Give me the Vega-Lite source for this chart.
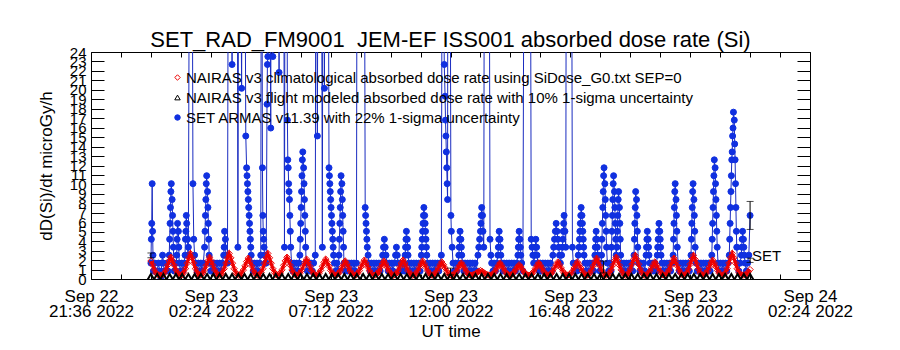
{
"$schema": "https://vega.github.io/schema/vega-lite/v6.json",
"width": 719, "height": 227,
"autosize": {"type": "none"},
"padding": {"left": 91, "top": 52, "right": 90, "bottom": 71},
"background": "white",
"config": {
  "view": {"stroke": "black", "strokeWidth": 1},
  "font": "Liberation Sans",
  "axis": {"labelColor": "black", "tickColor": "black", "titleColor": "black", "labelFont": "Liberation Sans", "titleFont": "Liberation Sans", "titleFontWeight": "normal", "grid": false, "domain": false},
  "legend": {"orient": "none", "legendX": 79, "legendY": 18, "labelFontSize": 15, "labelFont": "Liberation Sans", "labelColor": "black", "symbolSize": 30, "labelLimit": 1000, "rowPadding": 4, "labelOffset": 1, "symbolStrokeWidth": 1}
},
"title": {"text": "SET_RAD_FM9001\u00a0\u00a0JEM-EF ISS001 absorbed dose rate (Si)", "font": "Liberation Sans", "fontSize": 22, "fontWeight": "normal", "color": "black", "anchor": "middle", "offset": -7},
"datasets": {
"set": [
{"min":0,"v":1.68},{"min":1,"v":4.2},{"min":2,"v":5.88},{"min":3,"v":10.08},{"min":4,"v":5.04},{"min":5,"v":2.52},{"min":6,"v":0.84},
{"min":9,"v":1.68},{"min":12,"v":0.84},{"min":15,"v":0.84},{"min":18,"v":1.68},{"min":21,"v":0.84},{"min":24,"v":0},
{"min":26,"v":1.68},{"min":28,"v":2.52},{"min":30,"v":1.68},{"min":32,"v":0.84},
{"min":35,"v":0.84},{"min":38,"v":1.68},{"min":41,"v":0.84},
{"min":44,"v":2.52},{"min":45,"v":4.2},{"min":46,"v":5.88},{"min":47,"v":7.56},{"min":48,"v":9.24},{"min":49,"v":10.08},{"min":51,"v":8.4},{"min":52,"v":6.72},{"min":53,"v":5.04},{"min":54,"v":3.36},{"min":55,"v":1.68},{"min":56,"v":0.84},
{"min":59,"v":0.84},{"min":61,"v":1.68},
{"min":62,"v":2.52},{"min":63,"v":4.2},{"min":64,"v":5.88},{"min":66,"v":5.04},{"min":67,"v":3.36},{"min":68,"v":1.68},
{"min":71,"v":0.84},{"min":74,"v":1.68},{"min":77,"v":0.84},{"min":80,"v":1.68},
{"min":82,"v":2.52},{"min":83,"v":4.2},{"min":84,"v":5.04},{"min":85,"v":6.72},{"min":86,"v":5.88},{"min":88,"v":4.2},{"min":89,"v":2.52},{"min":90,"v":3.36},{"min":94,"v":60},{"min":98,"v":60},{"min":101,"v":10.08},{"min":103,"v":4.2},{"min":105,"v":2.52},
{"min":108,"v":1.68},{"min":111,"v":0.84},{"min":114,"v":1.68},{"min":117,"v":0.84},{"min":120,"v":1.68},{"min":123,"v":0.84},{"min":126,"v":1.68},
{"min":129,"v":3.36},{"min":130,"v":5.04},{"min":131,"v":6.72},{"min":132,"v":8.4},{"min":133,"v":10.08},{"min":134,"v":10.92},{"min":136,"v":9.24},{"min":137,"v":7.56},{"min":138,"v":5.88},{"min":139,"v":4.2},{"min":140,"v":2.52},{"min":141,"v":1.68},
{"min":144,"v":0.84},{"min":147,"v":1.68},{"min":150,"v":0.84},{"min":153,"v":1.68},{"min":156,"v":0.84},{"min":159,"v":1.68},{"min":162,"v":0.84},{"min":165,"v":1.68},{"min":168,"v":0.84},{"min":171,"v":1.68},
{"min":175,"v":2.52},{"min":176,"v":3.36},{"min":177,"v":5.04},{"min":179,"v":4.2},{"min":180,"v":2.52},{"min":184,"v":1.68},{"min":187,"v":60},{"min":193,"v":60},{"min":195,"v":22.68},{"min":197,"v":60},{"min":207,"v":60},{"min":209,"v":3.36},{"min":212,"v":60},{"min":218,"v":20.16},{"min":221,"v":60},{"min":224,"v":60},{"min":228,"v":15.12},
{"min":230,"v":11.76},{"min":231,"v":10.92},{"min":232,"v":10.08},{"min":233,"v":9.24},{"min":234,"v":8.4},{"min":235,"v":7.56},{"min":236,"v":6.72},{"min":237,"v":5.88},{"min":238,"v":5.04},{"min":239,"v":4.2},{"min":240,"v":3.36},{"min":241,"v":2.52},{"min":243,"v":1.68},
{"min":246,"v":0.84},{"min":249,"v":1.68},{"min":252,"v":0.84},{"min":255,"v":1.68},{"min":258,"v":0.84},{"min":261,"v":1.68},
{"min":264,"v":2.52},{"min":266,"v":60},{"min":268,"v":11.76},{"min":269,"v":6.72},{"min":270,"v":5.04},{"min":271,"v":4.2},{"min":272,"v":3.36},{"min":273,"v":2.52},{"min":275,"v":1.68},
{"min":277,"v":1.68},{"min":279,"v":18.48},{"min":280,"v":22.68},{"min":281,"v":23.52},{"min":283,"v":60},{"min":288,"v":15.96},{"min":290,"v":60},{"min":293,"v":23.52},{"min":296,"v":60},{"min":305,"v":60},{"min":308,"v":21.84},{"min":311,"v":60},{"min":318,"v":60},{"min":321,"v":3.36},{"min":323,"v":60},{"min":326,"v":60},{"min":328,"v":16.8},
{"min":329,"v":12.6},{"min":330,"v":11.76},{"min":331,"v":10.08},{"min":332,"v":9.24},{"min":333,"v":8.4},{"min":334,"v":6.72},{"min":335,"v":5.04},{"min":336,"v":3.36},{"min":338,"v":1.68},
{"min":341,"v":0.84},{"min":344,"v":1.68},{"min":347,"v":0.84},{"min":350,"v":1.68},{"min":353,"v":0.84},{"min":356,"v":1.68},
{"min":358,"v":2.52},{"min":359,"v":4.2},{"min":360,"v":5.88},{"min":361,"v":7.56},{"min":362,"v":9.24},{"min":363,"v":10.92},{"min":364,"v":12.6},{"min":365,"v":13.44},{"min":367,"v":11.76},{"min":368,"v":10.08},{"min":369,"v":8.4},{"min":370,"v":6.72},{"min":371,"v":5.04},{"min":372,"v":3.36},{"min":373,"v":1.68},
{"min":376,"v":0.84},{"min":379,"v":1.68},{"min":382,"v":0.84},{"min":385,"v":1.68},{"min":388,"v":0.84},{"min":391,"v":1.68},
{"min":395,"v":2.52},{"min":397,"v":60},{"min":400,"v":15.12},{"min":403,"v":60},{"min":409,"v":60},{"min":412,"v":3.36},{"min":414,"v":60},{"min":417,"v":20.16},{"min":420,"v":60},{"min":425,"v":60},{"min":428,"v":11.76},
{"min":429,"v":10.92},{"min":430,"v":10.08},{"min":431,"v":9.24},{"min":432,"v":8.4},{"min":433,"v":7.56},{"min":434,"v":6.72},{"min":435,"v":5.88},{"min":436,"v":5.04},{"min":437,"v":4.2},{"min":438,"v":3.36},{"min":439,"v":2.52},{"min":441,"v":1.68},
{"min":444,"v":0.84},{"min":447,"v":1.68},{"min":450,"v":0.84},
{"min":452,"v":2.52},{"min":453,"v":4.2},{"min":454,"v":5.88},{"min":455,"v":7.56},{"min":456,"v":9.24},{"min":457,"v":10.92},{"min":459,"v":10.08},{"min":460,"v":8.4},{"min":461,"v":6.72},{"min":462,"v":5.04},{"min":463,"v":3.36},{"min":464,"v":1.68},
{"min":467,"v":0.84},{"min":470,"v":1.68},{"min":473,"v":0.84},{"min":476,"v":1.68},{"min":479,"v":0.84},{"min":482,"v":1.68},{"min":485,"v":0.84},{"min":488,"v":1.68},{"min":491,"v":0.84},
{"min":494,"v":1.68},{"min":496,"v":60},{"min":512,"v":60},{"min":515,"v":7.56},
{"min":516,"v":6.72},{"min":517,"v":5.88},{"min":518,"v":5.04},{"min":519,"v":4.2},{"min":520,"v":3.36},{"min":522,"v":2.52},{"min":524,"v":1.68},
{"min":527,"v":0.84},{"min":530,"v":1.68},{"min":533,"v":0.84},{"min":536,"v":1.68},{"min":539,"v":0.84},{"min":542,"v":1.68},{"min":545,"v":0.84},{"min":548,"v":1.68},{"min":551,"v":0.84},{"min":554,"v":1.68},
{"min":557,"v":2.52},{"min":559,"v":3.36},{"min":561,"v":4.2},{"min":563,"v":3.36},{"min":565,"v":2.52},{"min":567,"v":1.68},
{"min":570,"v":0.84},{"min":573,"v":1.68},{"min":576,"v":0.84},{"min":579,"v":1.68},{"min":582,"v":0.84},{"min":585,"v":1.68},
{"min":588,"v":2.52},{"min":590,"v":3.36},{"min":592,"v":2.52},{"min":594,"v":1.68},
{"min":597,"v":0.84},{"min":600,"v":1.68},{"min":603,"v":0.84},{"min":606,"v":1.68},{"min":609,"v":0.84},
{"min":611,"v":2.52},{"min":612,"v":3.36},{"min":613,"v":4.2},{"min":614,"v":5.04},{"min":616,"v":4.2},{"min":617,"v":3.36},{"min":618,"v":2.52},{"min":620,"v":1.68},
{"min":623,"v":0.84},{"min":626,"v":1.68},{"min":629,"v":0.84},{"min":632,"v":1.68},{"min":635,"v":0.84},{"min":638,"v":1.68},{"min":641,"v":0.84},{"min":644,"v":1.68},{"min":647,"v":0.84},
{"min":650,"v":2.52},{"min":651,"v":3.36},{"min":652,"v":4.2},{"min":653,"v":5.04},{"min":654,"v":5.88},{"min":655,"v":6.72},{"min":656,"v":7.56},{"min":658,"v":6.72},{"min":659,"v":5.88},{"min":660,"v":5.04},{"min":661,"v":4.2},{"min":662,"v":3.36},{"min":663,"v":2.52},{"min":665,"v":1.68},
{"min":668,"v":0.84},{"min":671,"v":1.68},{"min":674,"v":0.84},{"min":677,"v":1.68},{"min":680,"v":0.84},{"min":683,"v":1.68},{"min":686,"v":0.84},{"min":689,"v":1.68},{"min":692,"v":0.84},{"min":695,"v":1.68},
{"min":698,"v":2.52},{"min":701,"v":60},{"min":705,"v":22.68},{"min":707,"v":19.32},{"min":708,"v":16.8},{"min":709,"v":15.12},{"min":710,"v":13.44},{"min":711,"v":11.76},{"min":712,"v":10.08},{"min":713,"v":8.4},{"min":714,"v":60},{"min":718,"v":60},{"min":721,"v":6.72},{"min":722,"v":5.04},{"min":724,"v":3.36},{"min":726,"v":1.68},
{"min":729,"v":0.84},{"min":732,"v":1.68},{"min":735,"v":0.84},{"min":738,"v":1.68},
{"min":740,"v":2.52},{"min":741,"v":3.36},{"min":742,"v":4.2},{"min":743,"v":5.04},{"min":745,"v":4.2},{"min":746,"v":3.36},{"min":747,"v":2.52},{"min":749,"v":1.68},
{"min":752,"v":0.84},{"min":755,"v":1.68},{"min":758,"v":0.84},{"min":761,"v":1.68},{"min":764,"v":0.84},{"min":767,"v":1.68},{"min":770,"v":0.84},{"min":773,"v":1.68},{"min":776,"v":0.84},{"min":779,"v":1.68},{"min":782,"v":0.84},
{"min":786,"v":2.52},{"min":788,"v":3.36},{"min":790,"v":4.2},{"min":792,"v":5.04},{"min":793,"v":5.88},{"min":794,"v":6.72},{"min":795,"v":7.56},{"min":797,"v":6.72},{"min":798,"v":5.04},{"min":800,"v":3.36},{"min":802,"v":60},{"min":812,"v":60},{"min":815,"v":4.2},{"min":817,"v":2.52},{"min":819,"v":1.68},
{"min":822,"v":0.84},{"min":825,"v":1.68},{"min":828,"v":0.84},{"min":831,"v":1.68},
{"min":834,"v":2.52},{"min":835,"v":3.36},{"min":836,"v":4.2},{"min":837,"v":5.04},{"min":839,"v":4.2},{"min":840,"v":3.36},{"min":841,"v":2.52},{"min":843,"v":1.68},
{"min":846,"v":0.84},{"min":849,"v":1.68},{"min":852,"v":0.84},{"min":855,"v":1.68},{"min":858,"v":0.84},{"min":861,"v":1.68},{"min":864,"v":0.84},{"min":867,"v":1.68},{"min":870,"v":0.84},{"min":873,"v":1.68},{"min":876,"v":0.84},{"min":879,"v":1.68},
{"min":882,"v":2.52},{"min":883,"v":3.36},{"min":884,"v":4.2},{"min":885,"v":5.04},{"min":887,"v":4.2},{"min":888,"v":3.36},{"min":889,"v":2.52},{"min":891,"v":1.68},
{"min":894,"v":0.84},{"min":898,"v":60},{"min":911,"v":60},{"min":914,"v":4.2},
{"min":916,"v":3.36},{"min":918,"v":2.52},{"min":920,"v":1.68},{"min":923,"v":2.52},{"min":924,"v":3.36},{"min":925,"v":4.2},{"min":927,"v":3.36},{"min":928,"v":2.52},{"min":930,"v":1.68},
{"min":933,"v":0.84},{"min":936,"v":1.68},{"min":939,"v":0.84},{"min":942,"v":1.68},{"min":945,"v":0.84},{"min":948,"v":1.68},{"min":951,"v":0.84},{"min":954,"v":1.68},{"min":957,"v":0.84},{"min":960,"v":1.68},{"min":963,"v":0.84},
{"min":966,"v":2.52},{"min":968,"v":3.36},{"min":970,"v":4.2},{"min":972,"v":5.04},{"min":974,"v":5.88},{"min":976,"v":5.04},{"min":978,"v":4.2},{"min":980,"v":3.36},{"min":982,"v":2.52},{"min":984,"v":1.68},
{"min":987,"v":2.52},{"min":989,"v":3.36},{"min":990,"v":4.2},{"min":991,"v":5.04},{"min":992,"v":5.88},{"min":993,"v":6.72},{"min":995,"v":5.04},{"min":997,"v":3.36},{"min":999,"v":60},{"min":1010,"v":60},{"min":1013,"v":3.36},{"min":1015,"v":1.68},
{"min":1018,"v":0.84},{"min":1021,"v":1.68},{"min":1024,"v":0.84},
{"min":1027,"v":2.52},{"min":1029,"v":3.36},{"min":1030,"v":4.2},{"min":1031,"v":5.04},{"min":1032,"v":5.88},{"min":1033,"v":6.72},{"min":1034,"v":7.56},{"min":1036,"v":6.72},{"min":1037,"v":5.88},{"min":1038,"v":5.04},{"min":1039,"v":4.2},{"min":1040,"v":3.36},{"min":1041,"v":2.52},{"min":1043,"v":1.68},
{"min":1046,"v":0.84},{"min":1049,"v":1.68},{"min":1052,"v":0.84},{"min":1055,"v":1.68},{"min":1058,"v":0.84},{"min":1061,"v":1.68},{"min":1064,"v":0.84},
{"min":1067,"v":2.52},{"min":1068,"v":3.36},{"min":1069,"v":4.2},{"min":1070,"v":5.04},{"min":1072,"v":4.2},{"min":1073,"v":3.36},{"min":1074,"v":2.52},{"min":1076,"v":1.68},
{"min":1079,"v":0.84},{"min":1082,"v":1.68},
{"min":1083,"v":2.52},{"min":1084,"v":4.2},{"min":1085,"v":5.88},{"min":1086,"v":7.56},{"min":1087,"v":9.24},{"min":1088,"v":10.92},{"min":1089,"v":11.76},{"min":1091,"v":10.08},{"min":1092,"v":8.4},{"min":1093,"v":6.72},{"min":1094,"v":5.04},{"min":1095,"v":3.36},{"min":1097,"v":1.68},
{"min":1100,"v":0.84},{"min":1103,"v":1.68},{"min":1106,"v":0.84},
{"min":1107,"v":3.36},{"min":1108,"v":5.04},{"min":1109,"v":6.72},{"min":1110,"v":8.4},{"min":1111,"v":10.08},{"min":1112,"v":10.92},{"min":1114,"v":9.24},{"min":1115,"v":7.56},{"min":1116,"v":5.88},{"min":1117,"v":4.2},{"min":1118,"v":2.52},
{"min":1120,"v":3.36},{"min":1121,"v":5.04},{"min":1122,"v":6.72},{"min":1123,"v":8.4},{"min":1124,"v":9.24},{"min":1126,"v":7.56},{"min":1127,"v":5.88},{"min":1128,"v":4.2},{"min":1129,"v":2.52},{"min":1131,"v":1.68},
{"min":1134,"v":0.84},{"min":1137,"v":1.68},{"min":1140,"v":0.84},{"min":1143,"v":1.68},{"min":1146,"v":0.84},{"min":1149,"v":1.68},{"min":1152,"v":0.84},{"min":1155,"v":1.68},{"min":1158,"v":0.84},
{"min":1161,"v":2.52},{"min":1162,"v":4.2},{"min":1163,"v":5.88},{"min":1164,"v":7.56},{"min":1165,"v":9.24},{"min":1167,"v":8.4},{"min":1168,"v":6.72},{"min":1169,"v":5.04},{"min":1170,"v":3.36},{"min":1172,"v":1.68},
{"min":1175,"v":0.84},{"min":1178,"v":1.68},{"min":1181,"v":0.84},{"min":1184,"v":1.68},{"min":1187,"v":0.84},
{"min":1190,"v":2.52},{"min":1191,"v":3.36},{"min":1192,"v":4.2},{"min":1193,"v":5.04},{"min":1195,"v":4.2},{"min":1196,"v":3.36},{"min":1197,"v":2.52},{"min":1199,"v":1.68},
{"min":1202,"v":0.84},{"min":1205,"v":1.68},{"min":1208,"v":0.84},{"min":1211,"v":1.68},{"min":1214,"v":0.84},
{"min":1217,"v":2.52},{"min":1218,"v":3.36},{"min":1219,"v":4.2},{"min":1220,"v":5.04},{"min":1221,"v":5.88},{"min":1223,"v":5.04},{"min":1224,"v":4.2},{"min":1225,"v":3.36},{"min":1226,"v":2.52},{"min":1228,"v":1.68},
{"min":1231,"v":0.84},{"min":1234,"v":1.68},{"min":1237,"v":0.84},{"min":1240,"v":1.68},{"min":1243,"v":0.84},{"min":1246,"v":1.68},{"min":1249,"v":0.84},{"min":1252,"v":1.68},
{"min":1255,"v":2.52},{"min":1256,"v":4.2},{"min":1257,"v":5.88},{"min":1258,"v":7.56},{"min":1259,"v":9.24},{"min":1260,"v":10.08},{"min":1262,"v":8.4},{"min":1263,"v":6.72},{"min":1264,"v":5.04},{"min":1265,"v":3.36},{"min":1267,"v":1.68},
{"min":1270,"v":0.84},{"min":1273,"v":1.68},{"min":1276,"v":0.84},{"min":1279,"v":1.68},{"min":1282,"v":0.84},{"min":1285,"v":1.68},{"min":1288,"v":0.84},{"min":1291,"v":1.68},{"min":1294,"v":0.84},
{"min":1298,"v":2.52},{"min":1299,"v":4.2},{"min":1300,"v":5.88},{"min":1301,"v":7.56},{"min":1302,"v":9.24},{"min":1303,"v":10.08},{"min":1305,"v":8.4},{"min":1306,"v":6.72},{"min":1307,"v":5.04},{"min":1308,"v":3.36},{"min":1310,"v":1.68},
{"min":1313,"v":0.84},{"min":1316,"v":1.68},{"min":1319,"v":0.84},{"min":1322,"v":1.68},{"min":1325,"v":0.84},{"min":1328,"v":1.68},{"min":1331,"v":0.84},{"min":1334,"v":1.68},{"min":1337,"v":0.84},{"min":1340,"v":1.68},{"min":1344,"v":0.84},
{"min":1348,"v":2.52},{"min":1349,"v":4.2},{"min":1350,"v":5.88},{"min":1351,"v":7.56},{"min":1352,"v":9.24},{"min":1353,"v":10.92},{"min":1354,"v":12.6},{"min":1356,"v":11.76},{"min":1357,"v":10.08},{"min":1358,"v":8.4},{"min":1359,"v":6.72},{"min":1360,"v":5.04},{"min":1361,"v":3.36},{"min":1363,"v":1.68},
{"min":1366,"v":0.84},{"min":1369,"v":1.68},{"min":1372,"v":0.84},{"min":1375,"v":1.68},{"min":1378,"v":0.84},{"min":1381,"v":1.68},{"min":1384,"v":0.84},{"min":1387,"v":1.68},
{"min":1390,"v":2.52},{"min":1391,"v":4.2},{"min":1392,"v":5.88},{"min":1393,"v":7.56},{"min":1394,"v":9.24},{"min":1395,"v":10.92},{"min":1396,"v":12.6},{"min":1397,"v":13.44},{"min":1398,"v":15.12},{"min":1399,"v":15.96},{"min":1400,"v":17.64},{"min":1402,"v":16.8},{"min":1403,"v":14.28},{"min":1404,"v":12.6},{"min":1405,"v":10.08},{"min":1406,"v":7.56},{"min":1407,"v":5.04},{"min":1408,"v":3.36},{"min":1410,"v":1.68},
{"min":1413,"v":0.84},{"min":1416,"v":1.68},
{"min":1419,"v":2.52},{"min":1420,"v":3.36},{"min":1421,"v":4.2},{"min":1422,"v":5.04},{"min":1424,"v":4.2},{"min":1425,"v":3.36},{"min":1426,"v":2.52},{"min":1428,"v":1.68},
{"min":1431,"v":0.84},{"min":1434,"v":1.68},{"min":1437,"v":2.52},{"min":1440,"v":6.72}
],
"nairas": [
{"min":0,"v":1.9},{"min":4,"v":1.5},{"min":8,"v":1.0},{"min":12,"v":0.65},{"min":16,"v":0.47},{"min":20,"v":0.42},{"min":24,"v":0.4},
{"min":28,"v":0.46},{"min":32,"v":0.63},{"min":36,"v":0.97},{"min":40,"v":1.45},{"min":44,"v":1.92},{"min":48,"v":2.3},{"min":52,"v":1.92},{"min":56,"v":1.45},{"min":60,"v":0.97},{"min":64,"v":0.63},{"min":68,"v":0.46},{"min":71,"v":0.4},
{"min":75,"v":0.47},{"min":79,"v":0.68},{"min":83,"v":1.09},{"min":87,"v":1.67},{"min":91,"v":2.24},{"min":95,"v":2.7},{"min":99,"v":2.24},{"min":103,"v":1.67},{"min":107,"v":1.09},{"min":111,"v":0.68},{"min":115,"v":0.47},{"min":118,"v":0.4},
{"min":121,"v":0.46},{"min":125,"v":0.63},{"min":129,"v":0.97},{"min":133,"v":1.45},{"min":137,"v":1.92},{"min":141,"v":2.3},{"min":145,"v":1.92},{"min":149,"v":1.45},{"min":153,"v":0.97},{"min":157,"v":0.63},{"min":161,"v":0.46},{"min":164,"v":0.4},
{"min":168,"v":0.47},{"min":172,"v":0.68},{"min":176,"v":1.09},{"min":180,"v":1.67},{"min":184,"v":2.24},{"min":188,"v":2.7},{"min":192,"v":2.24},{"min":196,"v":1.67},{"min":200,"v":1.09},{"min":204,"v":0.68},{"min":208,"v":0.47},{"min":211,"v":0.4},
{"min":214,"v":0.45},{"min":218,"v":0.62},{"min":222,"v":0.94},{"min":226,"v":1.39},{"min":230,"v":1.84},{"min":234,"v":2.2},{"min":238,"v":1.84},{"min":242,"v":1.39},{"min":246,"v":0.94},{"min":250,"v":0.62},{"min":254,"v":0.45},{"min":257,"v":0.4},
{"min":261,"v":0.47},{"min":265,"v":0.68},{"min":269,"v":1.09},{"min":273,"v":1.67},{"min":277,"v":2.24},{"min":281,"v":2.7},{"min":285,"v":2.24},{"min":289,"v":1.67},{"min":293,"v":1.09},{"min":297,"v":0.68},{"min":301,"v":0.47},{"min":304,"v":0.4},
{"min":307,"v":0.46},{"min":311,"v":0.63},{"min":315,"v":0.97},{"min":319,"v":1.45},{"min":323,"v":1.92},{"min":327,"v":2.3},{"min":331,"v":1.92},{"min":335,"v":1.45},{"min":339,"v":0.97},{"min":343,"v":0.63},{"min":347,"v":0.46},{"min":350,"v":0.4},
{"min":354,"v":0.45},{"min":358,"v":0.6},{"min":362,"v":0.91},{"min":366,"v":1.34},{"min":370,"v":1.76},{"min":374,"v":2.1},{"min":378,"v":1.76},{"min":382,"v":1.34},{"min":386,"v":0.91},{"min":390,"v":0.6},{"min":394,"v":0.45},{"min":397,"v":0.4},
{"min":400,"v":0.45},{"min":404,"v":0.6},{"min":408,"v":0.91},{"min":412,"v":1.34},{"min":416,"v":1.76},{"min":420,"v":2.1},{"min":424,"v":1.76},{"min":428,"v":1.34},{"min":432,"v":0.91},{"min":436,"v":0.6},{"min":440,"v":0.45},{"min":443,"v":0.4},
{"min":447,"v":0.45},{"min":451,"v":0.58},{"min":455,"v":0.85},{"min":459,"v":1.23},{"min":463,"v":1.6},{"min":467,"v":1.9},{"min":471,"v":1.6},{"min":475,"v":1.23},{"min":479,"v":0.85},{"min":483,"v":0.58},{"min":487,"v":0.45},{"min":490,"v":0.4},
{"min":493,"v":0.45},{"min":497,"v":0.59},{"min":501,"v":0.88},{"min":505,"v":1.28},{"min":509,"v":1.68},{"min":513,"v":2.0},{"min":517,"v":1.68},{"min":521,"v":1.28},{"min":525,"v":0.88},{"min":529,"v":0.59},{"min":533,"v":0.45},{"min":536,"v":0.4},
{"min":540,"v":0.45},{"min":544,"v":0.58},{"min":548,"v":0.85},{"min":552,"v":1.23},{"min":556,"v":1.6},{"min":560,"v":1.9},{"min":564,"v":1.6},{"min":568,"v":1.23},{"min":572,"v":0.85},{"min":576,"v":0.58},{"min":580,"v":0.45},{"min":583,"v":0.4},
{"min":586,"v":0.45},{"min":590,"v":0.59},{"min":594,"v":0.88},{"min":598,"v":1.28},{"min":602,"v":1.68},{"min":606,"v":2.0},{"min":610,"v":1.68},{"min":614,"v":1.28},{"min":618,"v":0.88},{"min":622,"v":0.59},{"min":626,"v":0.45},{"min":629,"v":0.4},
{"min":633,"v":0.45},{"min":637,"v":0.58},{"min":641,"v":0.85},{"min":645,"v":1.23},{"min":649,"v":1.6},{"min":653,"v":1.9},{"min":657,"v":1.6},{"min":661,"v":1.23},{"min":665,"v":0.85},{"min":669,"v":0.58},{"min":673,"v":0.45},{"min":676,"v":0.4},
{"min":679,"v":0.44},{"min":683,"v":0.57},{"min":687,"v":0.82},{"min":691,"v":1.17},{"min":695,"v":1.52},{"min":699,"v":1.8},{"min":703,"v":1.52},{"min":707,"v":1.17},{"min":711,"v":0.82},{"min":715,"v":0.57},{"min":719,"v":0.44},{"min":722,"v":0.4},
{"min":726,"v":0.44},{"min":730,"v":0.56},{"min":734,"v":0.79},{"min":738,"v":1.12},{"min":742,"v":1.44},{"min":746,"v":1.7},{"min":750,"v":1.44},{"min":754,"v":1.12},{"min":758,"v":0.79},{"min":762,"v":0.56},{"min":766,"v":0.44},{"min":769,"v":0.4},
{"min":772,"v":0.42},{"min":776,"v":0.46},{"min":780,"v":0.55},{"min":784,"v":0.68},{"min":788,"v":0.8},{"min":792,"v":0.9},{"min":796,"v":0.8},{"min":800,"v":0.68},{"min":804,"v":0.55},{"min":808,"v":0.46},{"min":812,"v":0.42},{"min":815,"v":0.4},
{"min":819,"v":0.44},{"min":823,"v":0.56},{"min":827,"v":0.79},{"min":831,"v":1.12},{"min":835,"v":1.44},{"min":839,"v":1.7},{"min":843,"v":1.44},{"min":847,"v":1.12},{"min":851,"v":0.79},{"min":855,"v":0.56},{"min":859,"v":0.44},{"min":862,"v":0.4},
{"min":865,"v":0.43},{"min":869,"v":0.53},{"min":873,"v":0.73},{"min":877,"v":1.01},{"min":881,"v":1.28},{"min":885,"v":1.5},{"min":889,"v":1.28},{"min":893,"v":1.01},{"min":897,"v":0.73},{"min":901,"v":0.53},{"min":905,"v":0.43},{"min":908,"v":0.4},
{"min":912,"v":0.44},{"min":916,"v":0.56},{"min":920,"v":0.79},{"min":924,"v":1.12},{"min":928,"v":1.44},{"min":932,"v":1.7},{"min":936,"v":1.44},{"min":940,"v":1.12},{"min":944,"v":0.79},{"min":948,"v":0.56},{"min":952,"v":0.44},{"min":955,"v":0.4},
{"min":958,"v":0.44},{"min":962,"v":0.57},{"min":966,"v":0.82},{"min":970,"v":1.17},{"min":974,"v":1.52},{"min":978,"v":1.8},{"min":982,"v":1.52},{"min":986,"v":1.17},{"min":990,"v":0.82},{"min":994,"v":0.57},{"min":998,"v":0.44},{"min":1001,"v":0.4},
{"min":1005,"v":0.44},{"min":1009,"v":0.57},{"min":1013,"v":0.82},{"min":1017,"v":1.17},{"min":1021,"v":1.52},{"min":1025,"v":1.8},{"min":1029,"v":1.52},{"min":1033,"v":1.17},{"min":1037,"v":0.82},{"min":1041,"v":0.57},{"min":1045,"v":0.44},{"min":1048,"v":0.4},
{"min":1051,"v":0.45},{"min":1055,"v":0.62},{"min":1059,"v":0.94},{"min":1063,"v":1.39},{"min":1067,"v":1.84},{"min":1071,"v":2.2},{"min":1075,"v":1.84},{"min":1079,"v":1.39},{"min":1083,"v":0.94},{"min":1087,"v":0.62},{"min":1091,"v":0.45},{"min":1094,"v":0.4},
{"min":1098,"v":0.46},{"min":1102,"v":0.63},{"min":1106,"v":0.97},{"min":1110,"v":1.45},{"min":1114,"v":1.92},{"min":1118,"v":2.3},{"min":1122,"v":1.92},{"min":1126,"v":1.45},{"min":1130,"v":0.97},{"min":1134,"v":0.63},{"min":1138,"v":0.46},{"min":1141,"v":0.4},
{"min":1144,"v":0.46},{"min":1148,"v":0.65},{"min":1152,"v":1.03},{"min":1156,"v":1.56},{"min":1160,"v":2.08},{"min":1164,"v":2.5},{"min":1168,"v":2.08},{"min":1172,"v":1.56},{"min":1176,"v":1.03},{"min":1180,"v":0.65},{"min":1184,"v":0.46},{"min":1187,"v":0.4},
{"min":1191,"v":0.44},{"min":1195,"v":0.57},{"min":1199,"v":0.82},{"min":1203,"v":1.17},{"min":1207,"v":1.52},{"min":1211,"v":1.8},{"min":1215,"v":1.52},{"min":1219,"v":1.17},{"min":1223,"v":0.82},{"min":1227,"v":0.57},{"min":1231,"v":0.44},{"min":1234,"v":0.4},
{"min":1237,"v":0.45},{"min":1241,"v":0.62},{"min":1245,"v":0.94},{"min":1249,"v":1.39},{"min":1253,"v":1.84},{"min":1257,"v":2.2},{"min":1261,"v":1.84},{"min":1265,"v":1.39},{"min":1269,"v":0.94},{"min":1273,"v":0.62},{"min":1277,"v":0.45},{"min":1280,"v":0.4},
{"min":1284,"v":0.46},{"min":1288,"v":0.65},{"min":1292,"v":1.03},{"min":1296,"v":1.56},{"min":1300,"v":2.08},{"min":1304,"v":2.5},{"min":1308,"v":2.08},{"min":1312,"v":1.56},{"min":1316,"v":1.03},{"min":1320,"v":0.65},{"min":1324,"v":0.46},{"min":1327,"v":0.4},
{"min":1330,"v":0.45},{"min":1334,"v":0.59},{"min":1338,"v":0.88},{"min":1342,"v":1.28},{"min":1346,"v":1.68},{"min":1350,"v":2.0},{"min":1354,"v":1.68},{"min":1358,"v":1.28},{"min":1362,"v":0.88},{"min":1366,"v":0.59},{"min":1370,"v":0.45},{"min":1373,"v":0.4},
{"min":1377,"v":0.47},{"min":1381,"v":0.68},{"min":1385,"v":1.09},{"min":1389,"v":1.67},{"min":1393,"v":2.24},{"min":1397,"v":2.7},{"min":1401,"v":2.24},{"min":1405,"v":1.67},{"min":1409,"v":1.09},{"min":1413,"v":0.68},{"min":1417,"v":0.47},{"min":1420,"v":0.4},
{"min":1424,"v":0.42},{"min":1428,"v":0.45},{"min":1432,"v":0.55},{"min":1436,"v":0.75},{"min":1440,"v":1.0}
],
"flight": [
{"min":0,"v":0.15},{"min":15,"v":0.15},{"min":30,"v":0.15},{"min":45,"v":0.15},{"min":60,"v":0.15},{"min":75,"v":0.15},{"min":90,"v":0.15},{"min":105,"v":0.15},{"min":120,"v":0.15},{"min":135,"v":0.15},{"min":150,"v":0.15},{"min":165,"v":0.15},{"min":180,"v":0.15},{"min":195,"v":0.15},{"min":210,"v":0.15},{"min":225,"v":0.15},{"min":240,"v":0.15},{"min":255,"v":0.15},{"min":270,"v":0.15},{"min":285,"v":0.15},{"min":300,"v":0.15},{"min":315,"v":0.15},{"min":330,"v":0.15},{"min":345,"v":0.15},{"min":360,"v":0.15},{"min":375,"v":0.15},{"min":390,"v":0.15},{"min":405,"v":0.15},{"min":420,"v":0.15},{"min":435,"v":0.15},{"min":450,"v":0.15},{"min":465,"v":0.15},{"min":480,"v":0.15},{"min":495,"v":0.15},{"min":510,"v":0.15},{"min":525,"v":0.15},{"min":540,"v":0.15},{"min":555,"v":0.15},{"min":570,"v":0.15},{"min":585,"v":0.15},{"min":600,"v":0.15},{"min":615,"v":0.15},{"min":630,"v":0.15},{"min":645,"v":0.15},{"min":660,"v":0.15},{"min":675,"v":0.15},{"min":690,"v":0.15},{"min":705,"v":0.15},{"min":720,"v":0.15},{"min":735,"v":0.15},{"min":750,"v":0.15},{"min":765,"v":0.15},{"min":780,"v":0.15},{"min":795,"v":0.15},{"min":810,"v":0.15},{"min":825,"v":0.15},{"min":840,"v":0.15},{"min":855,"v":0.15},{"min":870,"v":0.15},{"min":885,"v":0.15},{"min":900,"v":0.15},{"min":915,"v":0.15},{"min":930,"v":0.15},{"min":945,"v":0.15},{"min":960,"v":0.15},{"min":975,"v":0.15},{"min":990,"v":0.15},{"min":1005,"v":0.15},{"min":1020,"v":0.15},{"min":1035,"v":0.15},{"min":1050,"v":0.15},{"min":1065,"v":0.15},{"min":1080,"v":0.15},{"min":1095,"v":0.15},{"min":1110,"v":0.15},{"min":1125,"v":0.15},{"min":1140,"v":0.15},{"min":1155,"v":0.15},{"min":1170,"v":0.15},{"min":1185,"v":0.15},{"min":1200,"v":0.15},{"min":1215,"v":0.15},{"min":1230,"v":0.15},{"min":1245,"v":0.15},{"min":1260,"v":0.15},{"min":1275,"v":0.15},{"min":1290,"v":0.15},{"min":1305,"v":0.15},{"min":1320,"v":0.15},{"min":1335,"v":0.15},{"min":1350,"v":0.15},{"min":1365,"v":0.15},{"min":1380,"v":0.15},{"min":1395,"v":0.15},{"min":1410,"v":0.15},{"min":1425,"v":0.15},{"min":1440,"v":0.15}
],
"err": [
{"min":0,"lo":2.25,"hi":2.75},{"min":720,"lo":0.45,"hi":1.15},{"min":1088,"lo":0.65,"hi":1.9},{"min":1440,"lo":1.75,"hi":2.2},{"min":1440,"lo":5.24,"hi":8.2}
],
"lbl": [{"min":1440,"v":2.4,"label":"SET"}]
},
"layer": [
{
 "data": {"name": "set"},
 "mark": {"type": "line", "clip": true, "color": "#1a2cc0", "strokeWidth": 1},
 "encoding": {
  "x": {"field": "min", "type": "quantitative",
        "scale": {"domain": [-144, 1584], "nice": false, "zero": false},
        "axis": {"orient": "bottom", "values": [-144,-72,0,72,144,216,288,360,432,504,576,648,720,792,864,936,1008,1080,1152,1224,1296,1368,1440,1512,1584],
                 "labelExpr": "(datum.value + 144) % 288 == 0 ? [utcFormat(utc(2022,8,23) + datum.value*60000, '%b %d'), utcFormat(utc(2022,8,23) + datum.value*60000, '%H:%M %Y')] : ''",
                 "labelFontSize": 17, "labelLineHeight": 15, "labelFlush": false, "labelOverlap": false, "labelPadding": 14,
                 "tickSize": -5, "title": "UT time", "titleFontSize": 17, "titlePadding": 4}},
  "y": {"field": "v", "type": "quantitative",
        "scale": {"domain": [0, 24], "nice": false, "zero": true},
        "axis": {"orient": "left", "values": [0,1,2,3,4,5,6,7,8,9,10,11,12,13,14,15,16,17,18,19,20,21,22,23,24],
                 "labelFontSize": 15, "labelOverlap": false, "labelPadding": 18, "tickSize": -13,
                 "title": "dD(Si)/dt microGy/h", "titleFontSize": 17, "titlePadding": 14}}
 }
},
{
 "data": {"name": "set"},
 "mark": {"type": "point", "clip": true, "size": 36, "strokeWidth": 1, "opacity": 1},
 "encoding": {
  "x": {"field": "min", "type": "quantitative", "axis": null},
  "y": {"field": "v", "type": "quantitative", "axis": null},
  "shape": {"datum": "SET ARMAS v11.39 with 22% 1-sigma uncertainty", "scale": {"domain": ["NAIRAS v3 climatological absorbed dose rate using SiDose_G0.txt SEP=0", "NAIRAS v3 flight modeled absorbed dose rate with 10% 1-sigma uncertainty", "SET ARMAS v11.39 with 22% 1-sigma uncertainty"], "range": ["diamond", "triangle-up", "circle"]}, "legend": {"title": null}},
  "stroke": {"datum": "SET ARMAS v11.39 with 22% 1-sigma uncertainty", "scale": {"domain": ["NAIRAS v3 climatological absorbed dose rate using SiDose_G0.txt SEP=0", "NAIRAS v3 flight modeled absorbed dose rate with 10% 1-sigma uncertainty", "SET ARMAS v11.39 with 22% 1-sigma uncertainty"], "range": ["#ee0000", "#000000", "#1030e0"]}, "legend": {"title": null}},
  "fill": {"datum": "SET ARMAS v11.39 with 22% 1-sigma uncertainty", "scale": {"domain": ["NAIRAS v3 climatological absorbed dose rate using SiDose_G0.txt SEP=0", "NAIRAS v3 flight modeled absorbed dose rate with 10% 1-sigma uncertainty", "SET ARMAS v11.39 with 22% 1-sigma uncertainty"], "range": ["transparent", "transparent", "#1030e0"]}, "legend": {"title": null}}
 }
},
{
 "data": {"name": "nairas"},
 "mark": {"type": "line", "clip": true, "color": "#ee0000", "strokeWidth": 3},
 "encoding": {
  "x": {"field": "min", "type": "quantitative", "axis": null},
  "y": {"field": "v", "type": "quantitative", "axis": null}
 }
},
{
 "data": {"name": "nairas"},
 "mark": {"type": "point", "clip": true, "size": 40, "strokeWidth": 1, "opacity": 1},
 "encoding": {
  "x": {"field": "min", "type": "quantitative", "axis": {"orient": "top", "values": [-144,-72,0,72,144,216,288,360,432,504,576,648,720,792,864,936,1008,1080,1152,1224,1296,1368,1440,1512,1584], "labels": false, "tickSize": -5, "title": null}},
  "y": {"field": "v", "type": "quantitative", "axis": {"orient": "right", "values": [0,1,2,3,4,5,6,7,8,9,10,11,12,13,14,15,16,17,18,19,20,21,22,23,24], "labels": false, "tickSize": -13, "title": null}},
  "shape": {"datum": "NAIRAS v3 climatological absorbed dose rate using SiDose_G0.txt SEP=0"},
  "stroke": {"datum": "NAIRAS v3 climatological absorbed dose rate using SiDose_G0.txt SEP=0"},
  "fill": {"datum": "NAIRAS v3 climatological absorbed dose rate using SiDose_G0.txt SEP=0"}
 }
},
{
 "data": {"name": "flight"},
 "mark": {"type": "point", "clip": true, "size": 70, "strokeWidth": 2, "opacity": 1},
 "encoding": {
  "x": {"field": "min", "type": "quantitative", "axis": null},
  "y": {"field": "v", "type": "quantitative", "axis": null},
  "shape": {"datum": "NAIRAS v3 flight modeled absorbed dose rate with 10% 1-sigma uncertainty"},
  "stroke": {"datum": "NAIRAS v3 flight modeled absorbed dose rate with 10% 1-sigma uncertainty"},
  "fill": {"datum": "NAIRAS v3 flight modeled absorbed dose rate with 10% 1-sigma uncertainty"}
 }
},
{
 "data": {"name": "err"},
 "mark": {"type": "errorbar", "ticks": {"size": 7}, "color": "black", "thickness": 1},
 "encoding": {
  "x": {"field": "min", "type": "quantitative", "axis": null},
  "y": {"field": "lo", "type": "quantitative", "axis": null},
  "y2": {"field": "hi"}
 }
},
{
 "data": {"name": "lbl"},
 "mark": {"type": "text", "align": "left", "baseline": "middle", "dx": 2, "fontSize": 15, "font": "Liberation Sans", "color": "black"},
 "encoding": {
  "x": {"field": "min", "type": "quantitative", "axis": null},
  "y": {"field": "v", "type": "quantitative", "axis": null},
  "text": {"field": "label"}
 }
}
],
"resolve": {"axis": {"x": "independent", "y": "independent"}}
}
